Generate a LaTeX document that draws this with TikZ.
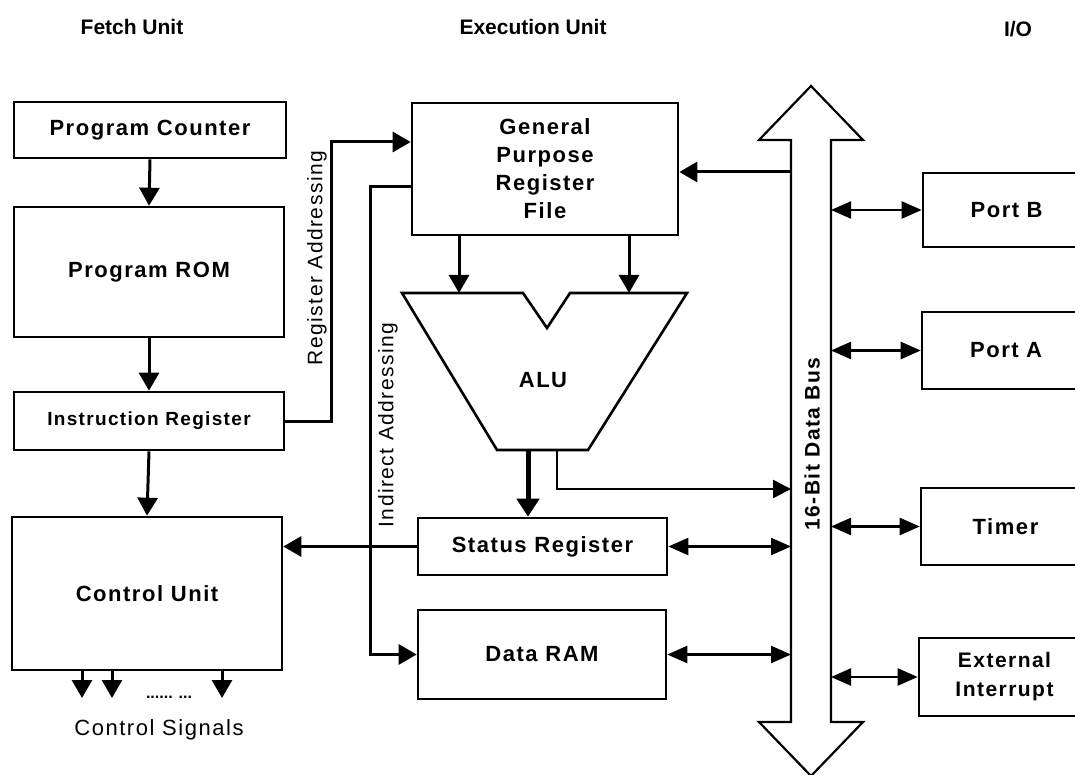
\documentclass[tikz,border=0pt]{standalone}
\usepackage{fontspec}
\setmainfont{Liberation Sans}
\newfontfamily\lblfont[LetterSpace=7]{Liberation Sans}
\usetikzlibrary{arrows.meta}

\tikzset{
  box/.style={draw, line width=2.6pt, inner sep=0pt, align=center,
    font=\lblfont\bfseries\fontsize{22}{28}\selectfont},
  head/.style={font=\bfseries\fontsize{21}{24}\selectfont},
  side/.style={rotate=90, font=\lblfont\fontsize{21}{24}\selectfont},
  lin/.style={line width=2.6pt},
  arr/.style={line width=3pt, -{Triangle[length=18pt,width=20pt]}},
  thinarr/.style={line width=2.4pt, -{Triangle[length=18pt,width=18pt]}},
  busarr/.style={line width=2.4pt,
    {Triangle[length=20pt,width=17pt]}-{Triangle[length=20pt,width=17pt]}},
  busline/.style={line width=2.2pt, line join=miter},
}

\begin{document}
\begin{tikzpicture}[x=1pt,y=-1pt]
  \useasboundingbox (0,0) rectangle (1075,775);
  \fill[white] (0,0) rectangle (1075,775);
  \clip (0,0) rectangle (1075,775);

  % column headings
  \node[head] (hfetch) at (132,27) {Fetch Unit};
  \node[head] (hexec)  at (533,27) {Execution Unit};
  \node[head] (hio)    at (1018,29) {I/O};

  % fetch unit
  \node[box, minimum width=272, minimum height=56]  (pc)  at (150,130)   {Program Counter};
  \node[box, minimum width=270, minimum height=130] (rom) at (149,272)   {Program ROM};
  \node[box, minimum width=270, minimum height=58,
        font=\lblfont\bfseries\fontsize{19}{24}\selectfont] (ir) at (149,421) {Instruction Register};
  \node[box, minimum width=270, minimum height=153] (cu)  at (147,593.5) {Control Unit};

  \draw[arr] (pc.south)  -- (rom.north);
  \draw[arr] (rom.south) -- (ir.north);
  \draw[arr] (ir.south)  -- (cu.north);

  % control signal outputs
  \coordinate (cs1) at (82,698);
  \coordinate (cs2) at (112,698);
  \coordinate (cs3) at (222,698);
  \draw[arr] (cs1 |- cu.south) -- (cs1);
  \draw[arr] (cs2 |- cu.south) -- (cs2);
  \draw[arr] (cs3 |- cu.south) -- (cs3);
  \node[font=\bfseries\fontsize{16}{16}\selectfont] (csdots) at (169,697) {...... ...};
  \node[font=\lblfont\fontsize{22}{26}\selectfont] (cslbl) at (159,730) {Control Signals};

  % execution unit
  \node[box, minimum width=266, minimum height=132] (gpr) at (545,169)
       {General\\Purpose\\Register\\File};
  \node[box, minimum width=249, minimum height=57]  (sr)  at (542.5,546.5) {Status Register};
  \node[box, minimum width=248, minimum height=89]  (ram) at (542,654.5)   {Data RAM};

  % ALU outline
  \coordinate (aluA) at (402,293);
  \coordinate (aluB) at (523,293);
  \coordinate (aluC) at (547,328);
  \coordinate (aluD) at (570,293);
  \coordinate (aluE) at (687,293);
  \coordinate (aluF) at (588,450);
  \coordinate (aluG) at (497,450);
  \draw[lin, line join=miter] (aluA) -- (aluB) -- (aluC) -- (aluD) -- (aluE)
       -- (aluF) -- (aluG) -- cycle;
  \node[font=\lblfont\bfseries\fontsize{22}{26}\selectfont] (alu) at (543,380) {ALU};

  % register file operands into the ALU
  \coordinate (opA) at (459,293);
  \coordinate (opB) at (629,293);
  \draw[arr] (opA |- gpr.south) -- (opA);
  \draw[arr] (opB |- gpr.south) -- (opB);

  % 16-bit data bus
  \coordinate (busL) at (791,0);
  \coordinate (busR) at (831,0);
  \draw[busline] (791,722) -- (791,140) -- (759,140) -- (811,86) -- (863,140)
       -- (831,140) -- (831,722) -- (863,722) -- (811,776) -- (759,722) -- cycle;
  \node[rotate=90, font=\lblfont\bfseries\fontsize{21}{24}\selectfont] (buslbl)
       at (812,444) {16-Bit Data Bus};

  % ALU outputs
  \coordinate (aluO1) at (528,450);
  \coordinate (aluO2) at (557,450);
  \coordinate (bALU)  at (791,489);
  \draw[line width=5pt, -{Triangle[length=18pt,width=22pt]}] (aluO1) -- (aluO1 |- sr.north);
  \draw[thinarr] (aluO2) |- (bALU);

  % bus to register file
  \coordinate (bGPR) at (791,172);
  \draw[arr] (bGPR) -- (bGPR -| gpr.east);

  % status register and data RAM links
  \draw[arr] (sr.west) -- (sr.west -| cu.east);
  \draw[busarr] (sr.east)  -- (sr.east -| busL);
  \draw[busarr] (ram.east) -- (ram.east -| busL);

  % register addressing path
  \coordinate (ra) at (331,142);
  \draw[arr] (ir.east) -| (ra) -- (ra -| gpr.west);
  \node[side] (ralbl) at (317,258) {Register Addressing};

  % indirect addressing path
  \coordinate (ia) at (370,187);
  \draw[arr] (ia -| gpr.west) -- (ia) |- (ram.west);
  \node[side] (ialbl) at (388,425) {Indirect Addressing};

  % I/O blocks
  \node[box, minimum width=167, minimum height=74] (portb) at (1006.5,210)   {Port\,\,B};
  \node[box, minimum width=168, minimum height=77] (porta) at (1006,350.5)   {Port\,\,A};
  \node[box, minimum width=169, minimum height=77] (timer) at (1005.5,526.5) {Timer};
  \node[box, minimum width=171, minimum height=78,
        font=\lblfont\bfseries\fontsize{21}{29}\selectfont] (extint) at (1004.5,677)
       {External\\Interrupt};

  \draw[busarr] (busR |- portb.west)  -- (portb.west);
  \draw[busarr] (busR |- porta.west)  -- (porta.west);
  \draw[busarr] (busR |- timer.west)  -- (timer.west);
  \draw[busarr] (busR |- extint.west) -- (extint.west);
\end{tikzpicture}
\end{document}
